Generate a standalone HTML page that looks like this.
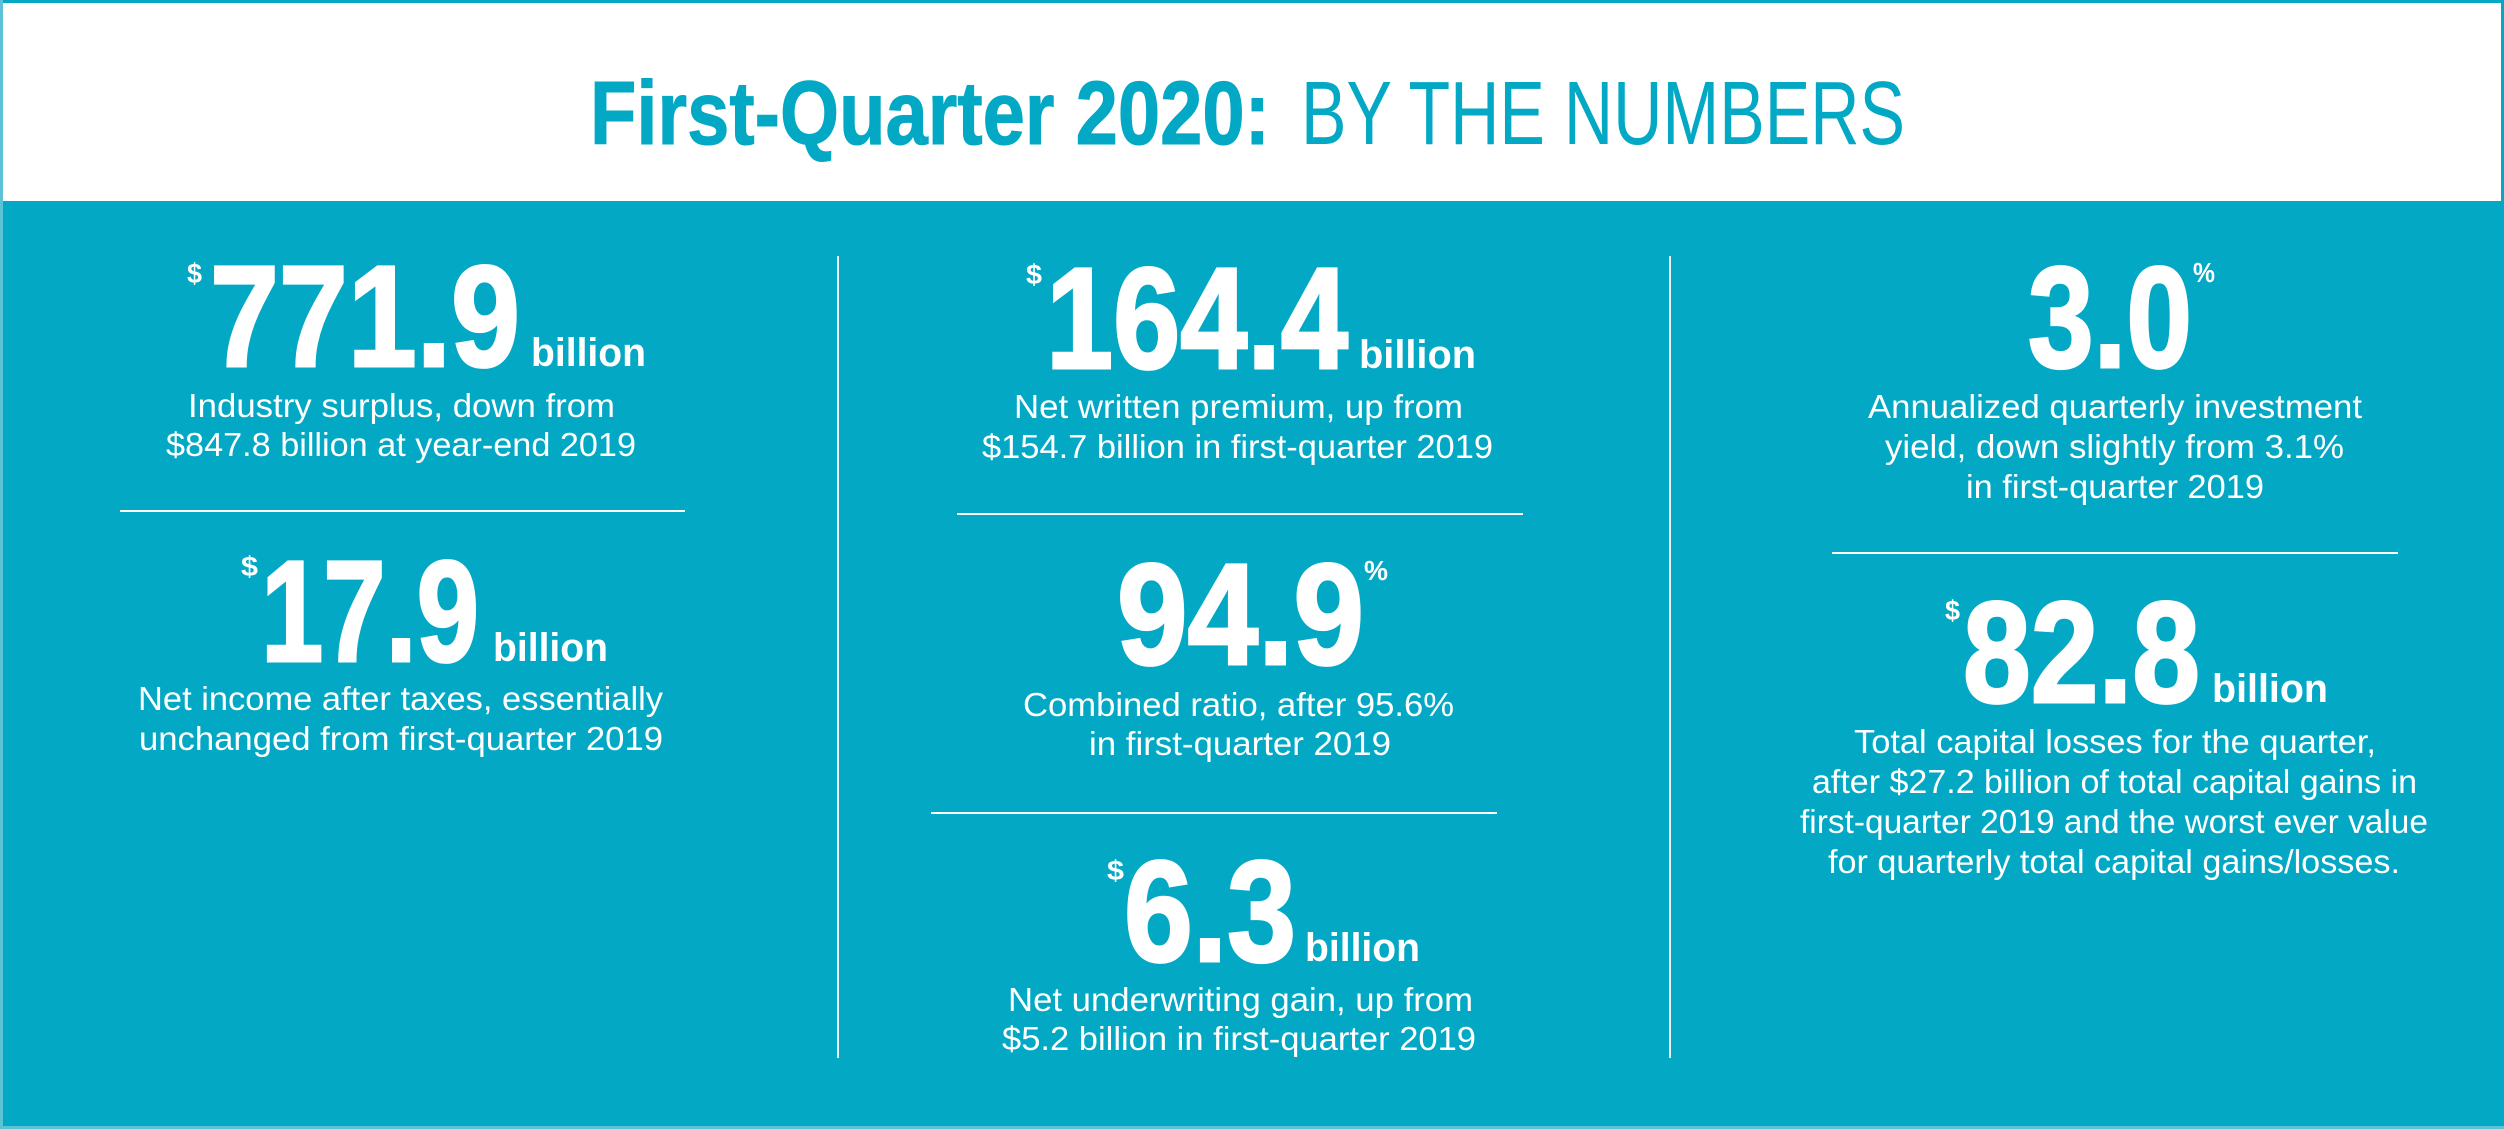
<!DOCTYPE html>
<html><head><meta charset="utf-8"><style>
html,body{margin:0;padding:0;background:#02a8c4;}
svg{display:block}
.t{font-family:"Liberation Sans Narrow","Liberation Sans",sans-serif;fill:#fff}
.big{font-weight:bold;font-size:144px;stroke:#fff;stroke-width:3px}
.bil{font-weight:bold;font-size:40px}
.d{font-size:33px}
.sup{font-weight:bold;font-size:28px}
</style></head><body>
<svg width="2504" height="1129" viewBox="0 0 2504 1129" xmlns="http://www.w3.org/2000/svg">
<rect x="0" y="0" width="2504" height="1129" fill="#02a8c4"/>
<rect x="0" y="0" width="2504" height="202" fill="#ffffff"/>
<rect x="1.5" y="1.5" width="2501" height="201" fill="none" stroke="#02a8c4" stroke-width="3"/>
<rect x="0" y="0" width="3" height="1129" fill="#5cc3d6"/>
<rect x="0" y="1126" width="2504" height="3" fill="#5cc3d6"/>
<g font-family="Liberation Sans Narrow, Liberation Sans, sans-serif" fill="#02a8c4" font-size="90">
<text x="590" y="144" font-weight="bold" stroke="#02a8c4" stroke-width="1" textLength="680" lengthAdjust="spacingAndGlyphs">First-Quarter 2020:</text>
<text x="1301" y="144" textLength="604" lengthAdjust="spacingAndGlyphs">BY THE NUMBERS</text>
</g>
<rect x="837" y="256" width="2" height="802" fill="#e8f6f9"/>
<rect x="1669" y="256" width="2" height="802" fill="#e8f6f9"/>
<rect x="120" y="510" width="565" height="2" fill="#fff"/>
<rect x="957" y="513" width="566" height="2" fill="#fff"/>
<rect x="931" y="812" width="566" height="2" fill="#fff"/>
<rect x="1832" y="552" width="566" height="2" fill="#fff"/>

<g class="t">
<text class="sup" x="187" y="283" textLength="15" lengthAdjust="spacingAndGlyphs">$</text>
<text class="big" x="210" y="366" textLength="310" lengthAdjust="spacingAndGlyphs">771.9</text>
<text class="bil" x="531" y="366" textLength="115" lengthAdjust="spacingAndGlyphs">billion</text>
<text class="d" x="188" y="417" textLength="427" lengthAdjust="spacingAndGlyphs">Industry surplus, down from</text>
<text class="d" x="166" y="456" textLength="470" lengthAdjust="spacingAndGlyphs">$847.8 billion at year-end 2019</text>

<text class="sup" x="241" y="576" textLength="17" lengthAdjust="spacingAndGlyphs">$</text>
<text class="big" x="261" y="661" textLength="218" lengthAdjust="spacingAndGlyphs">17.9</text>
<text class="bil" x="493" y="661" textLength="115" lengthAdjust="spacingAndGlyphs">billion</text>
<text class="d" x="138" y="710" textLength="525" lengthAdjust="spacingAndGlyphs">Net income after taxes, essentially</text>
<text class="d" x="139" y="750" textLength="524" lengthAdjust="spacingAndGlyphs">unchanged from first-quarter 2019</text>

<text class="sup" x="1026" y="284" textLength="16" lengthAdjust="spacingAndGlyphs">$</text>
<text class="big" x="1046" y="368" textLength="302" lengthAdjust="spacingAndGlyphs">164.4</text>
<text class="bil" x="1359" y="368" textLength="117" lengthAdjust="spacingAndGlyphs">billion</text>
<text class="d" x="1014" y="418" textLength="449" lengthAdjust="spacingAndGlyphs">Net written premium, up from</text>
<text class="d" x="982" y="458" textLength="511" lengthAdjust="spacingAndGlyphs">$154.7 billion in first-quarter 2019</text>

<text class="big" x="1117" y="664" textLength="247" lengthAdjust="spacingAndGlyphs">94.9</text>
<text class="sup" x="1364" y="580" textLength="24" lengthAdjust="spacingAndGlyphs">%</text>
<text class="d" x="1023" y="716" textLength="431" lengthAdjust="spacingAndGlyphs">Combined ratio, after 95.6%</text>
<text class="d" x="1089" y="755" textLength="302" lengthAdjust="spacingAndGlyphs">in first-quarter 2019</text>

<text class="sup" x="1107" y="880" textLength="17" lengthAdjust="spacingAndGlyphs">$</text>
<text class="big" x="1124" y="961" textLength="172" lengthAdjust="spacingAndGlyphs">6.3</text>
<text class="bil" x="1305" y="961" textLength="115" lengthAdjust="spacingAndGlyphs">billion</text>
<text class="d" x="1008" y="1011" textLength="465" lengthAdjust="spacingAndGlyphs">Net underwriting gain, up from</text>
<text class="d" x="1002" y="1050" textLength="474" lengthAdjust="spacingAndGlyphs">$5.2 billion in first-quarter 2019</text>

<text class="big" x="2028" y="367" textLength="164" lengthAdjust="spacingAndGlyphs">3.0</text>
<text class="sup" x="2193" y="282" textLength="22" lengthAdjust="spacingAndGlyphs">%</text>
<text class="d" x="1868" y="418" textLength="494" lengthAdjust="spacingAndGlyphs">Annualized quarterly investment</text>
<text class="d" x="1885" y="458" textLength="459" lengthAdjust="spacingAndGlyphs">yield, down slightly from 3.1%</text>
<text class="d" x="1966" y="498" textLength="298" lengthAdjust="spacingAndGlyphs">in first-quarter 2019</text>

<text class="sup" x="1945" y="620" textLength="15" lengthAdjust="spacingAndGlyphs">$</text>
<text class="big" x="1963" y="702" textLength="237" lengthAdjust="spacingAndGlyphs">82.8</text>
<text class="bil" x="2212" y="702" textLength="116" lengthAdjust="spacingAndGlyphs">billion</text>
<text class="d" x="1854" y="753" textLength="522" lengthAdjust="spacingAndGlyphs">Total capital losses for the quarter,</text>
<text class="d" x="1812" y="793" textLength="605" lengthAdjust="spacingAndGlyphs">after $27.2 billion of total capital gains in</text>
<text class="d" x="1800" y="833" textLength="628" lengthAdjust="spacingAndGlyphs">first-quarter 2019 and the worst ever value</text>
<text class="d" x="1828" y="873" textLength="572" lengthAdjust="spacingAndGlyphs">for quarterly total capital gains/losses.</text>
</g>
</svg>
</body></html>
